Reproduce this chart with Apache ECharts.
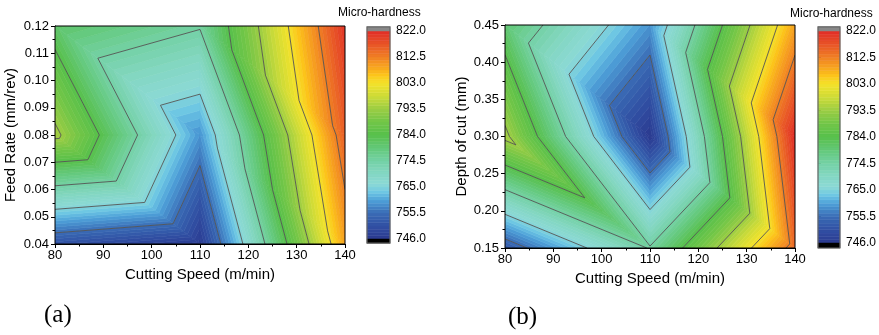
<!DOCTYPE html>
<html>
<head>
<meta charset="utf-8">
<script src="https://cdn.jsdelivr.net/npm/echarts@6/dist/echarts.min.js"></script>
<style>html,body{margin:0;padding:0;background:#fff}#chart{width:879px;height:335px}</style>
</head>
<body>
<div id="chart"></div>
<script>
// 3 x 3 design
const speeds = [80, 110, 140]
const feeds = [0.04, 0.08, 0.12]
const depths = [0.15, 0.30, 0.45]
// rows follow feeds / depths, columns follow speeds
const hardnessA = [
  [751, 746.5, 809],
  [795, 759, 816],
  [781, 775, 821]
]
const hardnessB = [
  [752, 775, 815],
  [795, 746, 822],
  [780, 759, 809]
]
const colorTicks = [746, 755.5, 765, 774.5, 784, 793.5, 803, 812.5, 822]

const FONT = 'Liberation Sans'

// colour ramp of the colour scale (value -> colour)
const stops = [
  [746, '#2b3990'], [751, '#3151a4'], [755.5, '#3a6cb5'], [760, '#4e9fd8'],
  [763, '#6cc6e4'], [766, '#8bd9d6'], [770, '#84d7c3'], [774.5, '#74d1a6'],
  [779, '#64c97c'], [784, '#57c04b'], [789, '#73c647'], [793.5, '#9bcd43'],
  [798, '#cbdb39'], [803, '#f5e22a'], [806, '#fcc41a'], [809, '#f7a31f'],
  [812.5, '#f08024'], [817, '#e85627'], [822, '#e12c27']
]
function hex(c) { return [1, 3, 5].map(i => parseInt(c.substr(i, 2), 16)) }
function colorAt(v) {
  if (v <= stops[0][0]) return stops[0][1]
  for (let k = 1; k < stops.length; k++) {
    if (v <= stops[k][0]) {
      const a = stops[k - 1], b = stops[k]
      const t = (v - a[0]) / (b[0] - a[0])
      const ca = hex(a[1]), cb = hex(b[1])
      return 'rgb(' + ca.map((x, i) => Math.round(x + t * (cb[i] - x))).join(',') + ')'
    }
  }
  return stops[stops.length - 1][1]
}

// fine filled levels: every major step split in 8
const SUB = 8
const bandEdges = []
for (let k = 0; k < colorTicks.length - 1; k++) {
  for (let s = 0; s < SUB; s++) bandEdges.push(colorTicks[k] + s * (colorTicks[k + 1] - colorTicks[k]) / SUB)
}
bandEdges.push(colorTicks[colorTicks.length - 1])
const bands = []
for (let k = 0; k < bandEdges.length - 1; k++) bands.push([bandEdges[k], bandEdges[k + 1]])
const lineLevels = colorTicks.slice(1, -1)

// each grid cell cut along the top-left -> bottom-right diagonal
function makeTriangles(xs, ys, z) {
  const tris = []
  for (let j = 0; j < ys.length - 1; j++) {
    for (let i = 0; i < xs.length - 1; i++) {
      const p00 = [xs[i], ys[j], z[j][i]]
      const p10 = [xs[i + 1], ys[j], z[j][i + 1]]
      const p01 = [xs[i], ys[j + 1], z[j + 1][i]]
      const p11 = [xs[i + 1], ys[j + 1], z[j + 1][i + 1]]
      tris.push([p00, p10, p01], [p10, p11, p01])
    }
  }
  return tris
}

function clip(poly, level, above) {
  const out = []
  for (let k = 0; k < poly.length; k++) {
    const a = poly[k], b = poly[(k + 1) % poly.length]
    const ina = above ? a[2] >= level : a[2] <= level
    const inb = above ? b[2] >= level : b[2] <= level
    if (ina) out.push(a)
    if (ina !== inb) {
      const t = (level - a[2]) / (b[2] - a[2])
      out.push([a[0] + t * (b[0] - a[0]), a[1] + t * (b[1] - a[1]), level])
    }
  }
  return out
}

function fillItem(tris) {
  return function (params, api) {
    const tri = tris[params.dataIndex]
    const children = []
    bands.forEach(([lo, hi]) => {
      let poly = clip(tri, lo, true)
      if (poly.length < 3) return
      poly = clip(poly, hi, false)
      if (poly.length < 3) return
      const c = colorAt((lo + hi) / 2)
      children.push({
        type: 'polygon',
        shape: { points: poly.map(p => api.coord([p[0], p[1]])) },
        style: { fill: c, stroke: c, lineWidth: 0.6 }
      })
    })
    return { type: 'group', children }
  }
}

function lineItem(tris) {
  return function (params, api) {
    const tri = tris[params.dataIndex]
    const children = []
    lineLevels.forEach(L => {
      const pts = []
      for (let e = 0; e < 3; e++) {
        const a = tri[e], b = tri[(e + 1) % 3]
        if ((a[2] - L) * (b[2] - L) < 0) {
          const t = (L - a[2]) / (b[2] - a[2])
          pts.push(api.coord([a[0] + t * (b[0] - a[0]), a[1] + t * (b[1] - a[1])]))
        }
      }
      if (pts.length === 2) {
        children.push({
          type: 'line',
          shape: { x1: pts[0][0], y1: pts[0][1], x2: pts[1][0], y2: pts[1][1] },
          style: { stroke: '#555', lineWidth: 0.9 }
        })
      }
    })
    return { type: 'group', children }
  }
}

function frameItem(params) {
  const c = params.coordSys
  return {
    type: 'rect',
    shape: { x: c.x, y: c.y, width: c.width, height: c.height },
    style: { fill: null, stroke: '#000', lineWidth: 1 }
  }
}

function barItem(params, api) {
  const lo = api.value(0), hi = api.value(1)
  const p1 = api.coord([0, hi]), p2 = api.coord([1, lo])
  const c = lo < colorTicks[0] ? '#000' : hi > colorTicks[colorTicks.length - 1] ? '#888' : colorAt((lo + hi) / 2)
  return {
    type: 'rect',
    shape: { x: p1[0], y: p1[1], width: p2[0] - p1[0], height: p2[1] - p1[1] },
    style: { fill: c, stroke: c, lineWidth: 0.5 }
  }
}

function barFrame(lo, hi) {
  return function (params, api) {
    const p1 = api.coord([0, hi]), p2 = api.coord([1, lo])
    return {
      type: 'rect',
      shape: { x: p1[0], y: p1[1], width: p2[0] - p1[0], height: p2[1] - p1[1] },
      style: { fill: null, stroke: '#666', lineWidth: 1.2 }
    }
  }
}

const trisA = makeTriangles(speeds, feeds, hardnessA)
const trisB = makeTriangles(speeds, depths, hardnessB)

function mainX(gi) {
  return {
    type: 'value', gridIndex: gi, min: 80, max: 140, interval: 10,
    name: 'Cutting Speed (m/min)', nameLocation: 'middle', nameGap: 21,
    nameTextStyle: { fontFamily: FONT, fontSize: 15, color: '#000' },
    axisLine: { lineStyle: { color: '#000' } },
    axisTick: { length: 4, lineStyle: { color: '#000' } },
    minorTick: { show: true, splitNumber: 2, length: 2.5, lineStyle: { color: '#000' } },
    axisLabel: { fontFamily: FONT, fontSize: 13, color: '#000', margin: 5 },
    splitLine: { show: false }
  }
}
function mainY(gi, name, min, max, interval, gap) {
  return {
    type: 'value', gridIndex: gi, min, max, interval,
    name, nameLocation: 'middle', nameGap: gap,
    nameTextStyle: { fontFamily: FONT, fontSize: 15, color: '#000' },
    axisLine: { lineStyle: { color: '#000' } },
    axisTick: { length: 4, lineStyle: { color: '#000' } },
    minorTick: { show: true, splitNumber: 2, length: 2.5, lineStyle: { color: '#000' } },
    axisLabel: { fontFamily: FONT, fontSize: 13, color: '#000', margin: 6, formatter: v => v.toFixed(2) },
    splitLine: { show: false }
  }
}
function barX(gi) {
  return { type: 'value', gridIndex: gi, min: 0, max: 1, show: false }
}
function barY(gi) {
  return {
    type: 'value', gridIndex: gi, min: 746, max: 822, interval: 9.5, position: 'right',
    axisLine: { show: false },
    axisTick: { show: true, length: 3, lineStyle: { color: '#000' } },
    axisLabel: { fontFamily: FONT, fontSize: 12, color: '#000', margin: 6, formatter: v => v.toFixed(1) },
    splitLine: { show: false }
  }
}

const barA = bands.concat([[744.5, 746], [822, 823.5]])
const barB = bands.concat([[744.2, 746], [822, 823.5]])

const chart = echarts.init(document.getElementById('chart'))
chart.setOption({
  backgroundColor: '#fff',
  animation: false,
  grid: [
    { left: 55, top: 26, width: 290, height: 218 },
    { left: 505, top: 25, width: 290, height: 223 },
    { left: 367, top: 31, width: 23, height: 208 },
    { left: 818, top: 31, width: 22, height: 212 }
  ],
  xAxis: [mainX(0), mainX(1), barX(2), barX(3)],
  yAxis: [
    mainY(0, 'Feed Rate (mm/rev)', 0.04, 0.12, 0.01, 37),
    mainY(1, 'Depth of cut (mm)', 0.15, 0.45, 0.05, 28),
    barY(2), barY(3)
  ],
  series: [
    { type: 'custom', xAxisIndex: 0, yAxisIndex: 0, renderItem: fillItem(trisA), data: trisA.map((t, i) => [i]), clip: true, silent: true },
    { type: 'custom', xAxisIndex: 0, yAxisIndex: 0, renderItem: lineItem(trisA), data: trisA.map((t, i) => [i]), clip: true, silent: true, z: 3 },
    { type: 'custom', xAxisIndex: 0, yAxisIndex: 0, renderItem: frameItem, data: [[0]], silent: true, z: 4 },
    { type: 'custom', xAxisIndex: 1, yAxisIndex: 1, renderItem: fillItem(trisB), data: trisB.map((t, i) => [i]), clip: true, silent: true },
    { type: 'custom', xAxisIndex: 1, yAxisIndex: 1, renderItem: lineItem(trisB), data: trisB.map((t, i) => [i]), clip: true, silent: true, z: 3 },
    { type: 'custom', xAxisIndex: 1, yAxisIndex: 1, renderItem: frameItem, data: [[0]], silent: true, z: 4 },
    { type: 'custom', xAxisIndex: 2, yAxisIndex: 2, renderItem: barItem, data: barA, clip: false, silent: true },
    { type: 'custom', xAxisIndex: 2, yAxisIndex: 2, renderItem: barFrame(744.5, 823.5), data: [[0]], clip: false, silent: true, z: 4 },
    { type: 'custom', xAxisIndex: 3, yAxisIndex: 3, renderItem: barItem, data: barB, clip: false, silent: true },
    { type: 'custom', xAxisIndex: 3, yAxisIndex: 3, renderItem: barFrame(744.2, 823.5), data: [[0]], clip: false, silent: true, z: 4 }
  ],
  graphic: [
    { type: 'text', left: 338, top: 7, style: { text: 'Micro-hardness', font: '12px "Liberation Sans"', fill: '#000' } },
    { type: 'text', left: 790, top: 8, style: { text: 'Micro-hardness', font: '12px "Liberation Sans"', fill: '#000' } },
    { type: 'text', left: 44, top: 303, style: { text: '(a)', font: '25px "Liberation Serif"', fill: '#000' } },
    { type: 'text', left: 508, top: 305, style: { text: '(b)', font: '25px "Liberation Serif"', fill: '#000' } }
  ]
})
</script>
</body>
</html>
